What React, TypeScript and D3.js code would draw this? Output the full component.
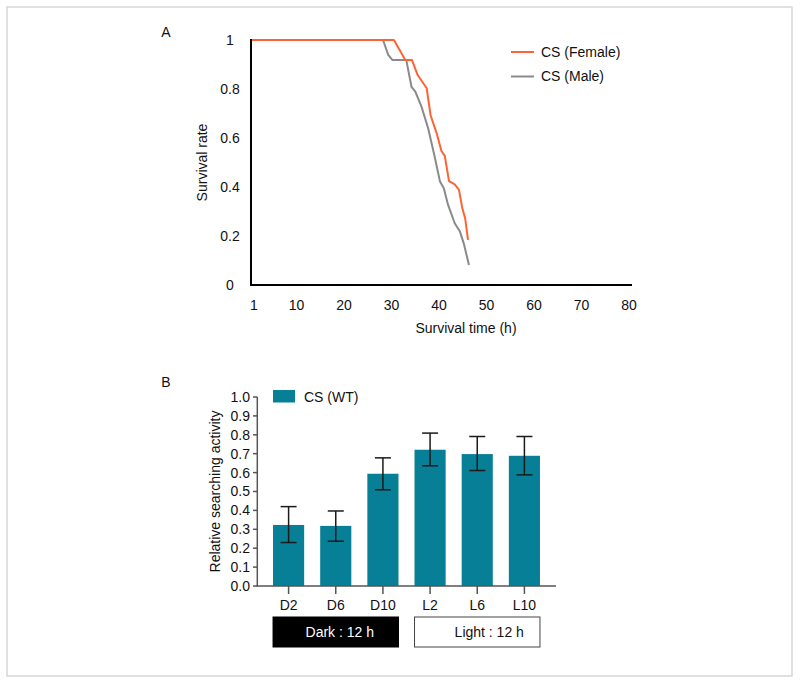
import React from "react";
import * as d3 from "d3";

// ---------- Panel A data ----------
const femaleTime = [1, 30.5, 32.9, 34.3, 35.5, 37.4, 38.2, 39.5, 40.5, 41.2, 42.1, 43.3, 44.2, 44.9, 45.5, 46.1];
const femaleRate = [1, 1, 0.918, 0.918, 0.857, 0.803, 0.694, 0.619, 0.547, 0.527, 0.424, 0.411, 0.388, 0.313, 0.272, 0.184];
const maleTime = [1, 28.2, 29.3, 30.2, 33.1, 34.2, 35.0, 36.3, 37.7, 39.0, 40.2, 41.0, 41.9, 43.3, 44.4, 45.2, 46.3];
const maleRate = [1, 1, 0.939, 0.918, 0.918, 0.809, 0.789, 0.728, 0.64, 0.531, 0.422, 0.395, 0.327, 0.252, 0.218, 0.17, 0.082];
const xTicksA = [1, 10, 20, 30, 40, 50, 60, 70, 80];
const yTicksA = [0, 0.2, 0.4, 0.6, 0.8, 1];
const yTickLabelsA = ["0", "0.2", "0.4", "0.6", "0.8", "1"];
const seriesNamesA = ["CS (Female)", "CS (Male)"];

// ---------- Panel B data ----------
const categoriesB = ["D2", "D6", "D10", "L2", "L6", "L10"];
const valuesB = [0.323, 0.318, 0.594, 0.721, 0.698, 0.689];
const lowerB = [0.23, 0.237, 0.509, 0.636, 0.611, 0.588];
const upperB = [0.42, 0.397, 0.678, 0.809, 0.791, 0.791];
const yTicksB = [0, 0.1, 0.2, 0.3, 0.4, 0.5, 0.6, 0.7, 0.8, 0.9, 1.0];
const periodNames = ["Dark : 12 h", "Light : 12 h"];
const periodGroups = [["D2", "D10"], ["L2", "L10"]];
const legendB = "CS (WT)";

const FONT = "'Liberation Sans', Arial, Helvetica, sans-serif";
const ORANGE = "#ff6333";
const GRAY = "#8a8a8a";
const TEAL = "#077f97";

export default function App() {
  // Panel A scales
  const xA = d3.scaleLinear().domain([0.4, 80]).range([251, 629]);
  const yA = d3.scaleLinear().domain([0, 1]).range([285, 40]);
  const lineA = d3
    .line<[number, number]>()
    .x((d) => xA(d[0]))
    .y((d) => yA(d[1]));
  const femalePts: [number, number][] = femaleTime.map((t, i) => [t, femaleRate[i]]);
  const malePts: [number, number][] = maleTime.map((t, i) => [t, maleRate[i]]);
  // line starts at the axis
  femalePts[0] = [0.4, femaleRate[0]];
  malePts[0] = [0.4, maleRate[0]];

  // Panel B scales
  const xB = d3.scaleBand<string>().domain(categoriesB).range([257, 556]).paddingInner(0.34).paddingOuter(0.34);
  const yB = d3.scaleLinear().domain([0, 1]).range([586, 397]);
  const bw = xB.bandwidth();

  return (
    <svg
      width={800}
      height={684}
      style={{ position: "absolute", left: 0, top: 0, background: "#fff" }}
      fontFamily={FONT}
    >
      <rect x={7} y={7} width={785} height={669} fill="#fff" stroke="#d6d6d6" strokeWidth={1.5} />

      {/* ---------- Panel A ---------- */}
      <text x={166} y={37} fontSize={14} textAnchor="middle" fill="#111">A</text>
      {yTicksA.map((t, i) => (
        <text key={"ya" + i} x={230} y={yA(t)} dy="0.35em" fontSize={14} textAnchor="middle" fill="#111">
          {yTickLabelsA[i]}
        </text>
      ))}
      {xTicksA.map((t) => (
        <text key={"xa" + t} x={xA(t)} y={305} dy="0.35em" fontSize={14} textAnchor="middle" fill="#111">
          {t}
        </text>
      ))}
      <text
        transform={`translate(202,${(yA(0) + yA(1)) / 2}) rotate(-90)`}
        dy="0.35em"
        fontSize={14}
        textAnchor="middle"
        fill="#111"
      >
        Survival rate
      </text>
      <text x={466} y={328} dy="0.35em" fontSize={14} textAnchor="middle" fill="#111">
        Survival time (h)
      </text>
      <path d={lineA(malePts) || ""} fill="none" stroke={GRAY} strokeWidth={2} strokeLinejoin="round" />
      <path d={lineA(femalePts) || ""} fill="none" stroke={ORANGE} strokeWidth={2} strokeLinejoin="round" />
      <line x1={251} x2={251} y1={yA(1) - 1} y2={yA(0) + 1} stroke="#000" strokeWidth={2} />
      <line x1={250} x2={632} y1={yA(0)} y2={yA(0)} stroke="#000" strokeWidth={2} />
      {seriesNamesA.map((n, i) => (
        <g key={n}>
          <line x1={511} x2={534} y1={52 + i * 24.5} y2={52 + i * 24.5} stroke={i === 0 ? ORANGE : GRAY} strokeWidth={2} />
          <text x={541} y={52 + i * 24.5} dy="0.35em" fontSize={14} fill="#111">
            {n}
          </text>
        </g>
      ))}

      {/* ---------- Panel B ---------- */}
      <text x={166} y={387} fontSize={14} textAnchor="middle" fill="#111">B</text>
      {categoriesB.map((c, i) => (
        <rect key={"bar" + c} x={xB(c)} y={yB(valuesB[i])} width={bw} height={yB(0) - yB(valuesB[i])} fill={TEAL} />
      ))}
      {categoriesB.map((c, i) => {
        const cx = (xB(c) as number) + bw / 2;
        return (
          <g key={"err" + c} stroke="#1a1a1a" strokeWidth={1.5}>
            <line x1={cx} x2={cx} y1={yB(upperB[i])} y2={yB(lowerB[i])} />
            <line x1={cx - 8} x2={cx + 8} y1={yB(upperB[i])} y2={yB(upperB[i])} />
            <line x1={cx - 8} x2={cx + 8} y1={yB(lowerB[i])} y2={yB(lowerB[i])} />
          </g>
        );
      })}
      <line x1={257.3} x2={257.3} y1={yB(1)} y2={yB(0)} stroke="#555" strokeWidth={1.5} />
      <line x1={256.5} x2={556} y1={yB(0)} y2={yB(0)} stroke="#555" strokeWidth={1.5} />
      {yTicksB.map((t) => (
        <g key={"yb" + t}>
          <line x1={253} x2={257.3} y1={yB(t)} y2={yB(t)} stroke="#555" strokeWidth={1.5} />
          <text x={250} y={yB(t)} dy="0.35em" fontSize={14} textAnchor="end" fill="#111">
            {t.toFixed(1)}
          </text>
        </g>
      ))}
      {categoriesB.map((c) => {
        const cx = (xB(c) as number) + bw / 2;
        return (
          <g key={"xb" + c}>
            <line x1={cx} x2={cx} y1={yB(0)} y2={yB(0) + 8} stroke="#555" strokeWidth={1.5} />
            <text x={cx} y={605} dy="0.35em" fontSize={14} textAnchor="middle" fill="#111">
              {c}
            </text>
          </g>
        );
      })}
      <text
        transform={`translate(215,${(yB(0) + yB(1)) / 2}) rotate(-90)`}
        dy="0.35em"
        fontSize={14}
        textAnchor="middle"
        fill="#111"
      >
        Relative searching activity
      </text>
      <rect x={xB(categoriesB[0])} y={390} width={22} height={12.5} fill={TEAL} />
      <text x={304} y={397} dy="0.35em" fontSize={14} fill="#111">
        {legendB}
      </text>
      {periodGroups.map((g, i) => {
        const x0 = xB(g[0]) as number;
        const x1 = (xB(g[1]) as number) + bw;
        const dark = i === 0;
        return (
          <g key={"period" + i}>
            <rect
              x={x0}
              y={617}
              width={x1 - x0}
              height={30}
              fill={dark ? "#000" : "#fff"}
              stroke={dark ? "#000" : "#444"}
              strokeWidth={1}
            />
            <text
              x={(x0 + x1) / 2 + (dark ? 4 : 12)}
              y={632}
              dy="0.35em"
              fontSize={14}
              textAnchor="middle"
              fill={dark ? "#fff" : "#111"}
            >
              {periodNames[i]}
            </text>
          </g>
        );
      })}
    </svg>
  );
}
